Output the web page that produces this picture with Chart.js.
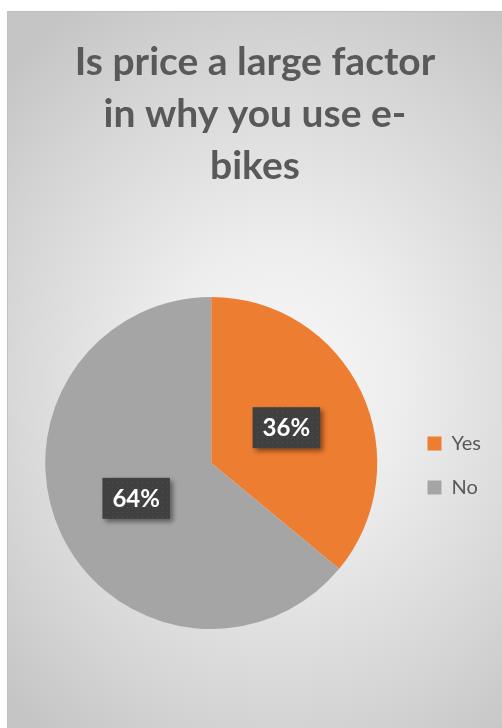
<!DOCTYPE html>
<html>
<head>
<meta charset="utf-8">
<script src="https://cdn.jsdelivr.net/npm/chart.js@4.4.1/dist/chart.umd.min.js"></script>
<style>
  html, body { margin: 0; padding: 0; background: #ffffff; }
  #panel {
    position: absolute; left: 7px; top: 11px; width: 494px; height: 716px;
    border-left: 1px solid #c0c0c0; border-top: 1px solid #c0c0c0;
    background: radial-gradient(78% 62% at 55% 52%, #f8f8f8 0%, #ededed 32%, #d4d4d4 76%, #c5c5c5 100%);
  }
  #wrap { position: absolute; left: 0; top: 0; width: 502px; height: 728px; }
</style>
</head>
<body>
<div id="panel"></div>
<div id="wrap"><canvas id="grafico-preco"></canvas></div>
<script>
const titulo = ['Is price a large factor', 'in why you use e-', 'bikes'];
const categorias = ['Yes', 'No'];
const percentuais = [36, 64];
const cores = ['#ED7D31', '#A5A5A5'];

// dotted dark fill used behind the percentage labels
function padraoRotulo(ctx) {
  const tile = document.createElement('canvas');
  tile.width = 5; tile.height = 5;
  const t = tile.getContext('2d');
  t.fillStyle = '#404040';
  t.fillRect(0, 0, 5, 5);
  t.fillStyle = '#4f4f4f';
  t.fillRect(2, 2, 1, 1);
  return ctx.createPattern(tile, 'repeat');
}

const rotulosPlugin = {
  id: 'rotulos',
  afterDatasetsDraw(chart) {
    const ctx = chart.ctx;
    const meta = chart.getDatasetMeta(0);
    const fill = padraoRotulo(ctx);
    ctx.save();
    ctx.font = 'bold 24px Lato';
    ctx.textAlign = 'center';
    ctx.textBaseline = 'middle';
    meta.data.forEach((arc, i) => {
      const pos = arc.tooltipPosition();
      const texto = percentuais[i] + '%';
      const w = ctx.measureText(texto).width + 20;
      const h = 41;
      ctx.save();
      ctx.shadowColor = 'rgba(0,0,0,0.45)';
      ctx.shadowBlur = 5;
      ctx.shadowOffsetX = 3;
      ctx.shadowOffsetY = 3;
      ctx.fillStyle = fill;
      ctx.fillRect(pos.x - w / 2, pos.y - h / 2, w, h);
      ctx.restore();
      ctx.fillStyle = '#ffffff';
      ctx.fillText(texto, pos.x, pos.y + 1);
    });
    ctx.restore();
  }
};

const ctxPreco = document.getElementById('grafico-preco').getContext('2d');
const precoChart = new Chart(ctxPreco, {
  type: 'pie',
  data: {
    labels: categorias,
    datasets: [{
      data: percentuais,
      backgroundColor: cores,
      borderWidth: 0
    }]
  },
  options: {
    responsive: true,
    maintainAspectRatio: false,
    animation: false,
    layout: {
      padding: { top: 0, left: 19, right: 11, bottom: 99 }
    },
    plugins: {
      title: {
        display: true,
        text: titulo,
        color: '#595959',
        font: { family: 'Lato', size: 39, weight: 'bold', lineHeight: 52 / 39 },
        padding: { top: 36, bottom: 105 }
      },
      legend: {
        position: 'right',
        // empty title only pushes the entries down beside the pie
        title: {
          display: true,
          text: '',
          font: { size: 10, lineHeight: 1 },
          padding: { top: 0, bottom: 292 }
        },
        labels: {
          boxWidth: 14,
          boxHeight: 14,
          padding: 24,
          color: '#595959',
          font: { family: 'Lato', size: 20 }
        }
      },
      tooltip: { enabled: false }
    }
  },
  plugins: [rotulosPlugin]
});
</script>
</body>
</html>
